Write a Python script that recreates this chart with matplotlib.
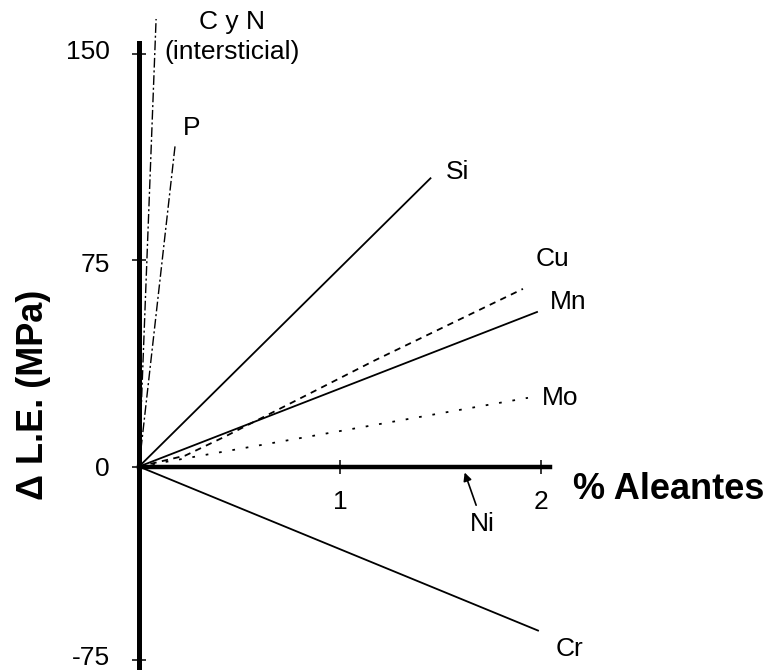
import numpy as np
import matplotlib
matplotlib.use("Agg")
import matplotlib.pyplot as plt
from matplotlib.transforms import ScaledTranslation

plt.rcParams['font.family'] = ['Liberation Sans', 'DejaVu Sans']

# Efecto de cada aleante sobre el limite elastico (rectas desde el origen)
# valores del extremo de cada recta: % aleante, delta L.E. (MPa)
cyn_x = [0.0, 0.085]
cyn_y = [0.0, 162.7]
p_x = [0.0, 0.18]
p_y = [0.0, 117.0]
si_x = [0.0, 1.45]
si_y = [0.0, 104.8]
cu_x = [0.0, 0.23, 0.43, 0.74, 1.17, 1.91]
cu_y = [0.0, 4.0, 11.0, 22.5, 38.5, 64.6]
mn_x = [0.0, 1.98]
mn_y = [0.0, 56.2]
mo_x = [0.0, 1.935]
mo_y = [0.0, 25.0]
cr_x = [0.0, 1.985]
cr_y = [0.0, -63.6]
ni_x = 1.62
ni_y = 0.0

y_ticks = [-75, 0, 75, 150]
y_ticklabels = ["-75", "0", "75", "150"]
x_ticks = [1, 2]
x_ticklabels = ["1", "2"]

# el dibujo original tiene la parte negativa algo mas comprimida
r_neg = 0.937


def fwd(y):
    y = np.asarray(y, dtype=float)
    return np.where(y >= 0, y, y * r_neg)


def inv(y):
    y = np.asarray(y, dtype=float)
    return np.where(y >= 0, y, y / r_neg)


fig = plt.figure(figsize=(7.69, 6.70), dpi=100)
ax = fig.add_axes([0, 0, 1, 1])
ax.set_yscale('function', functions=(fwd, inv))
ax.set_xlim(-0.6915, 3.134)
ax.set_ylim(-78.9, 169.6)

lw = 1.3
dashdot = (0, (7, 2, 1.5, 2))
ax.plot(cyn_x, cyn_y, color='black', lw=1.0, ls=dashdot)
ax.plot(p_x, p_y, color='black', lw=1.0, ls=dashdot)
ax.plot(si_x, si_y, color='black', lw=lw)
ax.plot(cu_x, cu_y, color='black', lw=lw, ls=(0, (3.5, 3)))
ax.plot(mn_x, mn_y, color='black', lw=lw)
ax.plot(mo_x, mo_y, color='black', lw=lw, ls=(0, (1.5, 6)))
ax.plot(cr_x, cr_y, color='black', lw=lw)

# etiquetas al final de cada recta (desplazamiento en puntos)
fs = 19
ends = [
    ("C y N\n(intersticial)", cyn_x[-1], cyn_y[-1], (55, -13)),
    ("P", p_x[-1], p_y[-1], (11.5, 12)),
    ("Si", si_x[-1], si_y[-1], (19.5, 4.5)),
    ("Cu", cu_x[-1], cu_y[-1], (21.5, 21.5)),
    ("Mn", mn_x[-1], mn_y[-1], (22.5, 7)),
    ("Mo", mo_x[-1], mo_y[-1], (23, 0)),
    ("Cr", cr_x[-1], cr_y[-1], (22.5, -13)),
]
for txt, xe, ye, off in ends:
    ax.annotate(txt, xy=(xe, ye), xytext=off, textcoords='offset points',
                ha='center', va='center', fontsize=fs, linespacing=1.35)

ax.annotate("Ni", xy=(ni_x, ni_y - 2.3), xytext=(13, -37),
            textcoords='offset points', ha='center', va='center', fontsize=fs,
            arrowprops=dict(arrowstyle='-|>', color='black', lw=1.2,
                            mutation_scale=12, shrinkA=3, shrinkB=0))

# ejes en cruz
for s in ['top', 'right']:
    ax.spines[s].set_visible(False)
ax.spines['left'].set_position(('data', 0))
ax.spines['bottom'].set_position(('data', 0))
ax.spines['left'].set_bounds(-80, 154)
ax.spines['bottom'].set_bounds(0, 2.045)
ax.spines['left'].set_linewidth(3.6)
ax.spines['bottom'].set_linewidth(3.2)

ax.set_yticks(y_ticks, y_ticklabels)
ax.set_xticks(x_ticks, x_ticklabels)
ax.tick_params(axis='both', direction='inout', length=10, width=1.1,
               labelsize=19)
ax.tick_params(axis='y', pad=16)
ax.tick_params(axis='x', pad=12)

# pequeños ajustes verticales de algunas etiquetas, como en el original
shift_px = {"-75": 4, "150": 4, "75": -2}
for tick in ax.yaxis.get_major_ticks():
    lab = tick.label1
    dy = shift_px.get(lab.get_text(), 0)
    if dy:
        lab.set_transform(lab.get_transform() +
                          ScaledTranslation(0, dy / 100, fig.dpi_scale_trans))

ax.set_xlabel("% Aleantes", fontsize=26, fontweight='bold')
ax.xaxis.set_label_coords(0.870, 0.270)
ax.xaxis.label.set_verticalalignment('center')
ax.set_ylabel("\u0394 L.E. (MPa)", fontsize=26, fontweight='bold')
ax.yaxis.set_label_coords(0.043, 0.41)
ax.yaxis.label.set_verticalalignment('center')

plt.savefig("out.png", dpi=100)
